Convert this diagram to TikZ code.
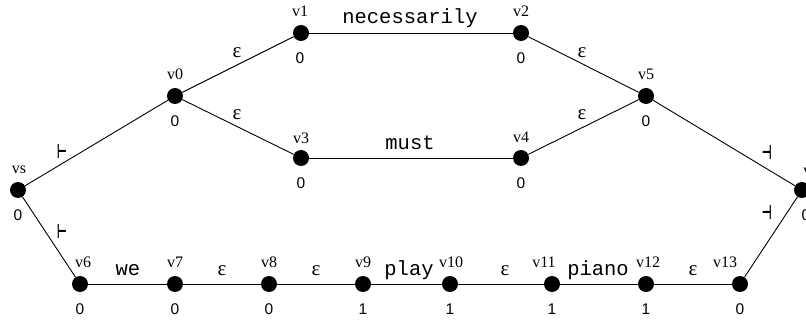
\documentclass[tikz,border=0pt]{standalone}
\usepackage{fontspec}
\setmainfont{Liberation Serif}
\newfontfamily\numfont{Liberation Sans}
\newfontfamily\wordfont{Liberation Mono}
\newfontfamily\symfont{DejaVu Sans}
\begin{document}
\begin{tikzpicture}[x=1pt,y=-1pt,
  vert/.style={circle,fill=black,inner sep=0pt,minimum size=16pt},
  edge/.style={draw=black,line width=0.9pt},
  vname/.style={anchor=base,inner sep=0pt,font=\fontsize{16}{16}\selectfont},
  weight/.style={anchor=base,inner sep=0pt,font=\numfont\fontsize{15.5}{16}\selectfont},
  word/.style={anchor=base,inner sep=0pt,font=\wordfont\fontsize{20.5}{21}\selectfont},
  eps/.style={anchor=base,inner sep=0pt,font=\fontsize{21}{21}\selectfont},
  turn/.style={inner sep=0pt,xscale=0.55,font=\symfont\bfseries\fontsize{20}{20}\selectfont}]
\useasboundingbox (0,0) rectangle (806,323);
\clip (0,0) rectangle (806,323);

% vertices
\node[vert] (vs) at (18,190) {};
\node[vert] (v0) at (175,96) {};
\node[vert] (v1) at (301,33) {};
\node[vert] (v2) at (521,33) {};
\node[vert] (v3) at (301,158) {};
\node[vert] (v4) at (521,158) {};
\node[vert] (v5) at (646,96) {};
\node[vert] (ve) at (802,190) {};
\node[vert] (v6) at (80,284) {};
\node[vert] (v7) at (175,284) {};
\node[vert] (v8) at (269,284) {};
\node[vert] (v9) at (363,284) {};
\node[vert] (v10) at (450,284) {};
\node[vert] (v11) at (552,284) {};
\node[vert] (v12) at (646,284) {};
\node[vert] (v13) at (740,284) {};

% edges
\draw[edge] (vs) -- (v0);
\draw[edge] (v0) -- (v1);
\draw[edge] (v0) -- (v3);
\draw[edge] (v1) -- (v2);
\draw[edge] (v3) -- (v4);
\draw[edge] (v2) -- (v5);
\draw[edge] (v4) -- (v5);
\draw[edge] (v5) -- (ve);
\draw[edge] (vs) -- (v6);
\draw[edge] (v6) -- (v7);
\draw[edge] (v7) -- (v8);
\draw[edge] (v8) -- (v9);
\draw[edge] (v9) -- (v10);
\draw[edge] (v10) -- (v11);
\draw[edge] (v11) -- (v12);
\draw[edge] (v12) -- (v13);
\draw[edge] (v13) -- (ve);

% vertex names
\node[vname] (nvs) at (19,174) {vs};
\node[vname] (nv0) at (175,80) {v0};
\node[vname] (nv1) at (300,17) {v1};
\node[vname] (nv2) at (521,17) {v2};
\node[vname] (nv3) at (301,144) {v3};
\node[vname] (nv4) at (521,143) {v4};
\node[vname] (nv5) at (646,80) {v5};
\node[vname] (nve) at (811,176) {ve};
\node[vname] (nv6) at (83,268) {v6};
\node[vname] (nv7) at (175,268) {v7};
\node[vname] (nv8) at (269,268) {v8};
\node[vname] (nv9) at (363,268) {v9};
\node[vname] (nv10) at (451,268) {v10};
\node[vname] (nv11) at (544,268) {v11};
\node[vname] (nv12) at (648,268) {v12};
\node[vname] (nv13) at (725,268) {v13};

% vertex weights
\node[weight] (wvs) at (18,221) {0};
\node[weight] (wv0) at (175,127) {0};
\node[weight] (wv1) at (300,64) {0};
\node[weight] (wv2) at (521,64) {0};
\node[weight] (wv3) at (301,189) {0};
\node[weight] (wv4) at (521,189) {0};
\node[weight] (wv5) at (646,127) {0};
\node[weight] (wve) at (806,221) {0};
\node[weight] (wv6) at (80,314) {0};
\node[weight] (wv7) at (175,314) {0};
\node[weight] (wv8) at (269,314) {0};
\node[weight] (wv9) at (363,314) {1};
\node[weight] (wv10) at (450,314) {1};
\node[weight] (wv11) at (552,314) {1};
\node[weight] (wv12) at (646,314) {1};
\node[weight] (wv13) at (740,314) {0};

% edge labels
\node[eps] (e01) at (237,58) {ε};
\node[eps] (e03) at (237,120) {ε};
\node[eps] (e25) at (582,58) {ε};
\node[eps] (e45) at (582,120) {ε};
\node[word] (w12) at (410,24) {necessarily};
\node[word] (w34) at (410,150) {must};
\node[word] (w67) at (128,276) {we};
\node[eps] (e78) at (222,276) {ε};
\node[eps] (e89) at (316,276) {ε};
\node[word] (w910) at (409,276) {play};
\node[eps] (e1011) at (505,276) {ε};
\node[word] (w1112) at (598,276) {piano};
\node[eps] (e1213) at (693,276) {ε};

% start and end markers
\node[turn] (ts1) at (62,151) {⊢};
\node[turn] (ts2) at (62,231) {⊢};
\node[turn] (te1) at (767,152) {⊣};
\node[turn] (te2) at (767,212) {⊣};
\end{tikzpicture}
\end{document}
